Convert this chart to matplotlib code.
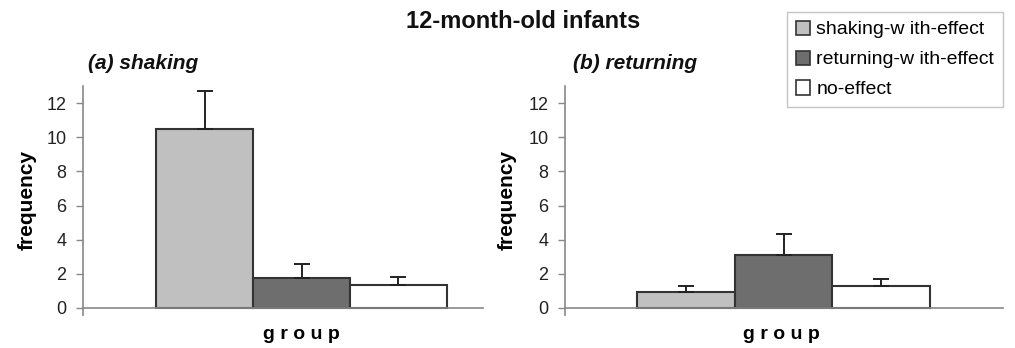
import matplotlib
matplotlib.use("Agg")
import matplotlib.pyplot as plt
from matplotlib.patches import Patch

plt.rcParams['font.family'] = ['Liberation Sans', 'DejaVu Sans']

# groups and measured frequencies (mean, upper error)
groups = ["shaking-w ith-effect", "returning-w ith-effect", "no-effect"]
colors = ["#c0c0c0", "#6e6e6e", "#ffffff"]

shaking_mean = [10.46, 1.76, 1.37]
shaking_err = [2.26, 0.8, 0.45]
returning_mean = [0.95, 3.1, 1.26]
returning_err = [0.32, 1.22, 0.44]

# title, means, errors, axes rect, xlim, subtitle x, ylabel x, xlabel x
panels = [
    ("(a) shaking", shaking_mean, shaking_err, [0.0818, 0.0954, 0.394, 0.6575],
     (-1.253, 2.871), 0.0867, -0.117, 0.545),
    ("(b) returning", returning_mean, returning_err, [0.5567, 0.0954, 0.4315, 0.6575],
     (-1.237, 3.247), 0.5645, -0.111, 0.493),
]

fig = plt.figure(figsize=(10.15, 3.48), dpi=100)

for title, means, errs, rect, xl, tx, ylx, xlx in panels:
    ax = fig.add_axes(rect)
    x = list(range(len(means)))
    ax.bar(x, means, width=1.0, color=colors, edgecolor="#333333", linewidth=1.5, zorder=2)
    ax.errorbar(x, means, yerr=[[0] * len(errs), errs], fmt="none", ecolor="#222222",
                elinewidth=1.4, capsize=6, capthick=1.4, zorder=3)
    ax.set_xlim(*xl)
    ax.set_ylim(-0.4, 13)
    ax.set_yticks([0, 2, 4, 6, 8, 10, 12])
    ax.spines['top'].set_visible(False)
    ax.spines['right'].set_visible(False)
    ax.spines['bottom'].set_position(('data', 0))
    for s in ('left', 'bottom'):
        ax.spines[s].set_color("#888888")
        ax.spines[s].set_linewidth(1.2)
    ax.set_xticks([])
    ax.tick_params(axis='y', direction='out', length=5, width=1, color="#888888",
                   labelsize=13, labelcolor="#222222", pad=7)
    ax.set_ylabel("frequency", fontsize=15, fontweight='bold')
    ax.yaxis.set_label_coords(ylx, 0.5)
    ax.set_xlabel("g r o u p", fontsize=14, fontweight='bold', va='top')
    ax.xaxis.set_label_coords(xlx, -0.047)
    fig.text(tx, 0.818, title, fontsize=15, fontweight='bold', style='italic',
             ha='left', va='center', color="#111111")

fig.text(0.515, 0.937, "12-month-old infants", fontsize=17, fontweight='bold',
         ha='center', va='center', color="#111111")

handles = [Patch(facecolor=c, edgecolor="#333333", linewidth=1.2) for c in colors]
leg = fig.legend(handles, groups, loc='upper right', bbox_to_anchor=(0.988, 0.966),
                 borderaxespad=0, fancybox=False, fontsize=14, handlelength=0.75,
                 handleheight=0.75, handletextpad=0.3, labelspacing=0.62,
                 borderpad=0.45, framealpha=1)
leg.get_frame().set_edgecolor("#c4c4c4")
leg.get_frame().set_linewidth(1.0)

fig.savefig("out.png", dpi=100)
